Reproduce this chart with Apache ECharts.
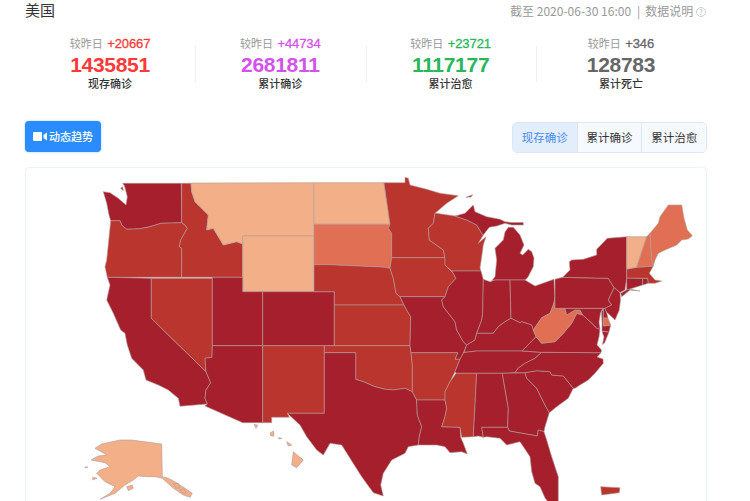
<!DOCTYPE html>
<html>
<head>
<meta charset="utf-8">
<title>美国</title>
<script src="https://cdn.jsdelivr.net/npm/echarts@6/dist/echarts.min.js"></script>
<style>
html,body{margin:0;padding:0;width:750px;height:501px;overflow:hidden;background:#fff;font-family:"Noto Sans CJK SC",sans-serif;color:#333}
.abs{position:absolute;white-space:nowrap}
#name{left:25px;top:-1px;font-size:15px;line-height:22px;color:#333}
#update{right:44px;top:1px;font-size:12px;line-height:20px;color:#999}
#update i{font-style:normal;color:#999;padding:0 5px 0 6px}
.stat{position:absolute;top:34px;width:170px;text-align:center}
.stat .diff{font-size:11px;line-height:18px;color:#999}
.stat .diff b{font-family:"Liberation Sans",sans-serif;font-size:13px;font-weight:normal;letter-spacing:-.1px;margin-left:2px;-webkit-text-stroke:.3px}
.stat .num{font-family:"Liberation Sans",sans-serif;font-weight:bold;font-size:21px;line-height:24px;height:23px;letter-spacing:-.3px}
.stat .lab{font-size:11px;line-height:15px;font-weight:500;color:#333}
.sep{position:absolute;top:46px;height:36px;width:1px;background:#f1f1f1}
#play{left:25px;top:121px;width:76px;height:31px;background:#2b8cff;border-radius:4px;color:#fff;font-size:11px;font-weight:500;line-height:31px;box-shadow:0 0 2px rgba(43,140,255,.5)}
#play span{margin-left:24px}
#play svg{position:absolute;left:8px;top:11px}
#tabs{left:512px;top:122px;width:193px;height:29px;border:1px solid #dbe6f6;border-radius:5px;display:flex;overflow:hidden;font-size:11.5px;line-height:29px}
#tabs div{flex:1;text-align:center;background:#f6f9fd;border-left:1px solid #dbe6f6;color:#333}
#tabs div:first-child{border-left:0;background:#e3eefd;color:#4b8bf0}
#card{position:absolute;left:25px;top:167px;width:680px;height:360px;border:1px solid #edf0f4;border-radius:4px;box-sizing:content-box}
#map{position:absolute;left:0;top:0;width:680px;height:360px}
</style>
</head>
<body>
<div class="abs" id="name">美国</div>
<div class="abs" id="update">截至 2020-06-30 16:00<i>|</i>数据说明 <svg width="10" height="10" style="vertical-align:-1px"><circle cx="5" cy="5" r="4.5" fill="none" stroke="#ccc"/><text x="5" y="8" font-size="8" text-anchor="middle" fill="#bbb">?</text></svg></div>
<div id="stats"></div>
<div class="abs" id="play"><svg width="15" height="9"><rect x="0" y="0" width="9" height="9" rx="1" fill="#fff"/><path d="M10.5 3 L14 0.5 V8.5 L10.5 6 Z" fill="#fff"/></svg><span>动态趋势</span></div>
<div class="abs" id="tabs"></div>
<div id="card"><div id="map"></div></div>

<script>
var statLabels = ['现存确诊', '累计确诊', '累计治愈', '累计死亡'];
var statTotals = [1435851, 2681811, 1117177, 128783];
var statDiffs = [20667, 44734, 23721, 346];
var statColors = ['#ff3838', '#d452ec', '#28b75a', '#666666'];
var tabLabels = ['现存确诊', '累计确诊', '累计治愈'];

var stateNames = ['Washington','Oregon','California','Nevada','Idaho','Montana','Wyoming','Utah','Arizona','Colorado','New Mexico','North Dakota','South Dakota','Nebraska','Kansas','Oklahoma','Texas','Minnesota','Iowa','Missouri','Arkansas','Louisiana','Wisconsin','Illinois','Michigan','Indiana','Ohio','Kentucky','Tennessee','Mississippi','Alabama','Georgia','Florida','South Carolina','North Carolina','Virginia','West Virginia','Maryland','Delaware','Pennsylvania','New Jersey','New York','Connecticut','Rhode Island','Massachusetts','Vermont','New Hampshire','Maine','Alaska','Hawaii','Puerto Rico'];
var stateValues = [17000,5600,140000,8400,5300,600,400,12000,60000,14000,6500,500,1500,7800,6200,6100,110000,8000,7100,12000,7900,24000,7300,40000,27000,16000,19000,11000,19000,9500,16000,48000,122000,23000,26000,25000,1200,28000,3900,36000,63000,160000,15000,11000,8000,100,1100,1200,500,300,9000];

// outlines of the states for registerMap, one string per state, "|" between separate parts
var stateShapes = {
  'Washington': '122.7,183.3 181.3,183.3 181.7,222.7 161,223.3 150,226.7 140,228.7 126.7,229.3 121.7,225 120,220.7 110.7,220.7 109,215 106.7,203.3 103.3,191.7 110,192.7 118.3,198.3 126,205 127.3,196.7 124.5,186|120.7,188.3 122.5,186.7 123.3,190.7',
  'Oregon': '110.7,220.7 120,220.7 121.7,225 126.7,229.3 140,228.7 150,226.7 161,223.3 181.7,222.7 185,225 187.3,228.3 180.7,240 179.3,246.7 181.7,248.3 181.7,277.3 107.3,277.3 105,266.7 106.7,260',
  'California': '107.3,277.3 151.3,278.3 151.3,318.3 206,371.7 210.7,382.7 206,390 205,398.3 207.3,404 180,406.3 178.3,398.3 168.3,390 158.3,385 146,380 143.3,370 131.7,358.3 127.3,345 125,333.3 120.7,330 113.3,313.3 106.7,300 110,285',
  'Nevada': '151.3,278.3 212.3,278.3 212.3,345.7 212,357.3 205,358.3 206,371.7 151.3,318.3',
  'Idaho': '181.7,183.3 191,183.3 191.7,191.7 195,201.7 208.3,215 206.7,230 213.3,228.3 218.3,236.7 223.3,245 236.7,241.7 242.7,244 242.7,277.3 181.7,277.3 181.7,248.3 179.3,246.7 180.7,240 187.3,228.3 185,225 181.7,222.7',
  'Montana': '191,183 313.7,182.7 313.7,236 242.7,236 242.7,244 236.7,241.7 223.3,245 218.3,236.7 213.3,228.3 206.7,230 208.3,215 195,201.7 191.7,191.7',
  'Wyoming': '242.7,236 313.7,236 313.7,291.7 242.7,291.7',
  'Utah': '212.3,277.3 242.7,277.3 242.7,291.7 262.7,291.7 262.7,345.7 212.3,345.7',
  'Arizona': '212.3,345.7 262.7,345.7 262.7,422.7 242.7,422.7 205,406 207.3,404 205,398.3 206,390 210.7,382.7 206,371.7 205,358.3 212,357.3',
  'Colorado': '262.7,291.7 334.3,291.7 334.3,345.7 262.7,345.7',
  'New Mexico': '262.7,345.7 324.3,345.7 324.3,413.3 287.3,413.3 289.3,417.3 271.7,417.3 271.7,422.7 262.7,422.7',
  'North Dakota': '314,182.7 384,182.7 390,224.3 314,224.3',
  'South Dakota': '314,224.3 390,224.3 388.3,228.3 391.7,233.3 391.7,257.7 390,268.3 385,267.3 375,266.7 330,264.7 314,264.7',
  'Nebraska': '314,264.7 330,264.7 375,266.7 385,267.3 390,268.3 393.3,278.3 396,293.3 400,296.7 404,305 334.3,305 334.3,291.7 314,291.7',
  'Kansas': '334.3,305 404,305 406.7,310 410.7,316.7 410,345.7 334.3,345.7',
  'Oklahoma': '324.3,345.7 410,345.7 411,352.7 412.3,365 412.3,391.7 405,388.3 393.3,390 385,389.3 375,386.7 363.3,381.7 355.7,379.3 355.7,352.7 324.3,352.7',
  'Texas': '324.3,352.7 355.7,352.7 355.7,379.3 363.3,381.7 375,386.7 385,389.3 393.3,390 405,388.3 412.3,391.7 416.7,400 417.3,415 421.7,426.7 419.3,436.7 418.3,445 408.3,446.7 405,453.3 391.7,460 383.3,473.3 380.7,485 383.3,496 373.3,492.7 361.7,476.7 350,458.3 341.7,445 330,443.3 323.3,455 316.7,450 306.7,436.7 300,425 287.3,413.3 324.3,413.3',
  'Minnesota': '384,182.7 405,182.7 405,177.3 408.3,178.3 410,185 426.7,189.3 440,193.3 458.3,195.7 446.7,203.3 435,213.3 433.3,223.3 428.3,228.3 429.3,240 443.3,250 445,257.7 391.7,257.7 391.7,233.3 388.3,228.3 390,224.3',
  'Iowa': '391.7,257.7 445,257.7 445,265 453.3,273.3 456,278.3 448.3,286.7 445,296.7 400,296.7 396,293.3 393.3,278.3 390,268.3',
  'Missouri': '400,296.7 445,296.7 441.7,300 443.3,306.7 455,321.7 456.7,330 463.3,341.7 466.7,345 463.3,353.3 460,359.3 455,359.3 457.7,352.7 411,352.7 410,345.7 410.7,316.7 406.7,310 404,305',
  'Arkansas': '411,352.7 457.7,352.7 455,359.3 460,359.3 455,371.7 450,381.7 445,391.7 445,400 416.7,400 412.3,391.7 412.3,365',
  'Louisiana': '416.7,400 445,400 446.7,408.3 445,416.7 441.7,426.7 460,427.3 460.7,437.3 463.3,443.3 467.3,454 461.7,451.7 450,452.7 445,446.7 436.7,445 428.3,445 418.3,445 419.3,436.7 421.7,426.7 417.3,415',
  'Wisconsin': '435,213.3 436.7,213.3 455,216 466.7,220 476.7,225 481.7,233.3 483.3,235 478.3,243.3 486,236.7 483.3,245 481.7,256.7 480,268 481,271 451.7,271 445,265 445,257.7 443.3,250 429.3,240 428.3,228.3 433.3,223.3',
  'Illinois': '451.7,271 481,271 483.3,279.3 482.7,313.3 481.7,320 476.7,333.3 475,340 466.7,345 463.3,341.7 456.7,330 455,321.7 443.3,306.7 441.7,300 445,296.7 448.3,286.7 456,278.3 453.3,273.3',
  'Michigan': '491.7,280.7 495,280 510,280 525,280 528,277 533.3,266.7 534,258 531.7,251.7 528.3,249.3 522.7,255 520,253.3 524,245 520,235 513.3,227.3 508.3,227.3 505,232 503.3,240 495,248.3 496.7,260 495,276.7|455,216 465,213.3 473.3,205 475,211.7 486.7,216.7 500,219.3 505,221.7 511.7,222.5 523.3,222.5 523.3,225 511.7,225 505,223.3 496.7,226 489.3,227.3 483.3,235 481.7,233.3 476.7,225 466.7,220|466,197.3 472.7,194.7 471,197',
  'Indiana': '483.3,279.3 490,281.7 495,280 510,280 511,318.3 505,321.7 498.3,326.7 493.3,333.3 485,333.3 476.7,333.3 481.7,320 482.7,313.3',
  'Ohio': '510,280 525,280 535,286 554,279.3 555,300 553.3,305 550,313.3 541.7,317.7 533.3,330 531.7,325 521.7,321.7 520,322.7 511,318.3',
  'Kentucky': '476.7,333.3 485,333.3 493.3,333.3 498.3,326.7 505,321.7 511,318.3 520,322.7 521.7,321.7 531.7,325 533.3,330 536,336.7 530,343 522,351 476.7,351 464,352.5 466.7,345 475,340',
  'Tennessee': '464,352.5 476.7,351 522,351 541.7,352.3 535,358.3 525,363.3 518.3,368 515,372.7 502.3,373.3 476.7,373.3 456,373.3 455,371.7 460,359.3 463.3,353.3',
  'Mississippi': '456,373.3 476.7,373.3 473.3,436.7 461.7,437.3 460,427.3 441.7,426.7 445,416.7 446.7,408.3 445,400 445,391.7 450,381.7',
  'Alabama': '476.7,373.3 502.3,373.3 508.3,408.3 507.7,427.3 481.7,427.3 483.3,437.3 478.3,436 473.3,436.7',
  'Georgia': '502.3,373.3 525,372.7 526.7,378.3 536.7,388.3 545,405 549.3,412.7 545,426.7 544,431.7 538.3,430 537.3,436 509.3,431 507.7,427.3 508.3,408.3',
  'Florida': '481.7,427.3 507.7,427.3 509.3,431 537.3,436 538.3,430 544,431.7 546.7,440 551.7,456.7 558.3,476.7 558.3,505 552,507 545,498 540,486.7 535,483.3 531.7,471.7 530,456.7 520,441.7 506.7,445 500,438.3 486.7,436.7 483.3,437.3',
  'South Carolina': '525,372.7 536.7,370.7 550,371.7 551.7,375 563.3,376 573.3,388.3 568.3,398.3 556.7,406.7 549.3,412.7 545,405 536.7,388.3 526.7,378.3',
  'North Carolina': '541.7,352.3 601,352.7 597,357 603,359 603.3,363.3 595,373.3 588.3,380 580,385 575,388.3 573.3,388.3 563.3,376 551.7,375 550,371.7 536.7,370.7 525,372.7 515,372.7 518.3,368 525,363.3 535,358.3',
  'Virginia': '522,351 530,343 536,336.7 541.7,343.3 555,341.7 563.3,333.3 571.7,323.3 576.7,313.3 582.7,315 588.3,320 591.7,323 597,328.5 600,329 599,337 597,345 601.5,350 601,352.7 541.7,352.3|602,331.5 609,332 604.5,343 602.5,344.5 604,337',
  'West Virginia': '533.3,330 541.7,317.7 550,313.3 553.3,305 555,297 555,308.3 565,308.3 566.7,315 575,310 580,310 582.7,315 576.7,313.3 571.7,323.3 563.3,333.3 555,341.7 541.7,343.3 536,336.7',
  'Maryland': '565,308.3 603,308.3 600.5,313 599,322 600,329 597,328.5 591.7,323 588.3,320 582.7,315 580,310 575,310 566.7,315|601.5,312 603.3,309 603.3,326 610.7,325 609,332 602,331 602,322|603.3,308.5 605,308.3 606.5,312 608,318 603.3,318',
  'Delaware': '603.3,318 608,318 610.7,325 603.3,326',
  'Pennsylvania': '555,279.3 562.7,277.3 608.3,278.3 614,287.5 613,290 608.3,300 611.7,305 605,308.3 555,308.3',
  'New Jersey': '614,287.5 620,292.5 620.5,300 619.3,310 615,320 606.5,312 605,308.3 611.7,305 608.3,300 613,290',
  'New York': '562.7,277.3 570,270 569.3,261.7 571.7,260 583.3,259.3 596.7,255 596.7,249.3 607.3,238.3 626.7,236.7 626.7,258.3 626.7,278 625,290 620,292.5 614,287.5 608.3,278.3|640,291 630,290 621.7,296.7 620.7,293.3 628.3,289',
  'Connecticut': '626.7,278 642.7,278.3 642.7,285 626.7,290',
  'Rhode Island': '642.7,278.3 647.7,278.3 648.3,283.3 642.7,285',
  'Massachusetts': '626.7,269 636.7,267.3 653.3,266 649.3,273.3 655,280 661.7,281 655,283.3 648.3,283.3 647.7,278.3 642.7,278.3 626.7,278',
  'Vermont': '626.7,236.7 646.7,236.7 641.7,251.7 636.7,267.3 626.7,269',
  'New Hampshire': '646.7,236.7 650,233.3 651.7,260 653.3,266 636.7,267.3 641.7,251.7',
  'Maine': '650,233.3 658.3,223.3 660,216.7 668.3,205 681.7,205 684,218.3 687.3,230 692.3,235.7 688.3,239 681.7,240 676.7,245 665,250 658.3,253.3 655,260 653.3,266 651.7,260',
  'Alaska': '101.7,444 120,440 131.7,440 161.7,444 162.3,476.7 168.3,478.3 175,481.7 185,488.3 192.3,493.3 190,497.3 183.3,495 173.3,488.3 162.3,478.3 155,476.7 146.7,476.7 138.3,476 133.3,480 125,485 115,493.3 100,499.3 110,493.3 115,486.7 105,481.7 96.7,473.3 100,470 110,466.7 105,462.7 91,460 98.3,456 106.7,455 95,448.3|92.5,477.5 97,478 93,480|126.7,486.7 132.3,485 133.3,488.3 128.3,490.7|85,467 88,467 85,468|174,484 178,483 180,488 176,488|180,490 184,489 186,493 182,493',
  'Hawaii': '293.3,451.7 303.3,460 296.7,467.7 291.7,465|286.7,441.7 291.7,445 288.3,446|270,433 273.5,431 274,436 271,436|254,424.5 257.7,425 256,428.3|278.3,437.7 282,438.3 279,439',
  'Puerto Rico': '600.7,486.7 620,487.7 619.3,492.7 601.7,495'
};

function parseRing(str) {
  var pts = str.trim().split(/\s+/).map(function (p) { return p.split(',').map(Number); });
  pts.push(pts[0]);
  return pts;
}

function buildGeoJson() {
  var features = [];
  for (var i in stateNames) {
    var name = stateNames[i];
    features.push({
      type: 'Feature',
      properties: { name: name },
      geometry: {
        type: 'MultiPolygon',
        coordinates: stateShapes[name].split('|').map(function (r) { return [parseRing(r)]; })
      }
    });
  }
  return { type: 'FeatureCollection', features: features };
}

function paintHeader() {
  var html = '';
  for (var i in statLabels) {
    var c = statColors[i];
    html += '<div class="stat" style="left:' + (25 + i * 170.3) + 'px">'
      + '<div class="diff">较昨日 <b style="color:' + c + '">+' + statDiffs[i] + '</b></div>'
      + '<div class="num" style="color:' + c + '">' + statTotals[i] + '</div>'
      + '<div class="lab">' + statLabels[i] + '</div></div>';
    if (i > 0) html += '<div class="sep" style="left:' + (25 + i * 170.3) + 'px"></div>';
  }
  document.getElementById('stats').innerHTML = html;
  document.getElementById('tabs').innerHTML = tabLabels.map(function (t) { return '<div>' + t + '</div>'; }).join('');
}

function paint() {
  var geo = buildGeoJson();
  echarts.registerMap('usa', geo);
  var data = stateNames.map(function (n, i) { return { name: n, value: stateValues[i] }; });

  // the outlines are already flat, so the projection passes them through
  var box = [1e9, 1e9, -1e9, -1e9];
  geo.features.forEach(function (f) {
    f.geometry.coordinates.forEach(function (poly) {
      poly[0].forEach(function (p) {
        box = [Math.min(box[0], p[0]), Math.min(box[1], p[1]), Math.max(box[2], p[0]), Math.max(box[3], p[1])];
      });
    });
  });

  var chart = echarts.init(document.getElementById('map'));
  chart.setOption({
    animation: false,
    tooltip: { trigger: 'item' },
    visualMap: {
      show: false,
      type: 'piecewise',
      pieces: [
        { min: 10000, color: '#a61f2c' },
        { min: 5000, max: 9999, color: '#bb352f' },
        { min: 1000, max: 4999, color: '#e16f53' },
        { max: 999, color: '#f2af88' }
      ]
    },
    series: [{
      type: 'map',
      map: 'usa',
      projection: {
        project: function (p) { return p; },
        unproject: function (p) { return p; }
      },
      left: box[0] - 26,
      top: box[1] - 168,
      width: box[2] - box[0],
      height: box[3] - box[1],
      label: { show: false },
      itemStyle: { borderColor: '#b09a9a', borderWidth: 0.6 },
      data: data
    }]
  });
}

paintHeader();
paint();
</script>
</body>
</html>
